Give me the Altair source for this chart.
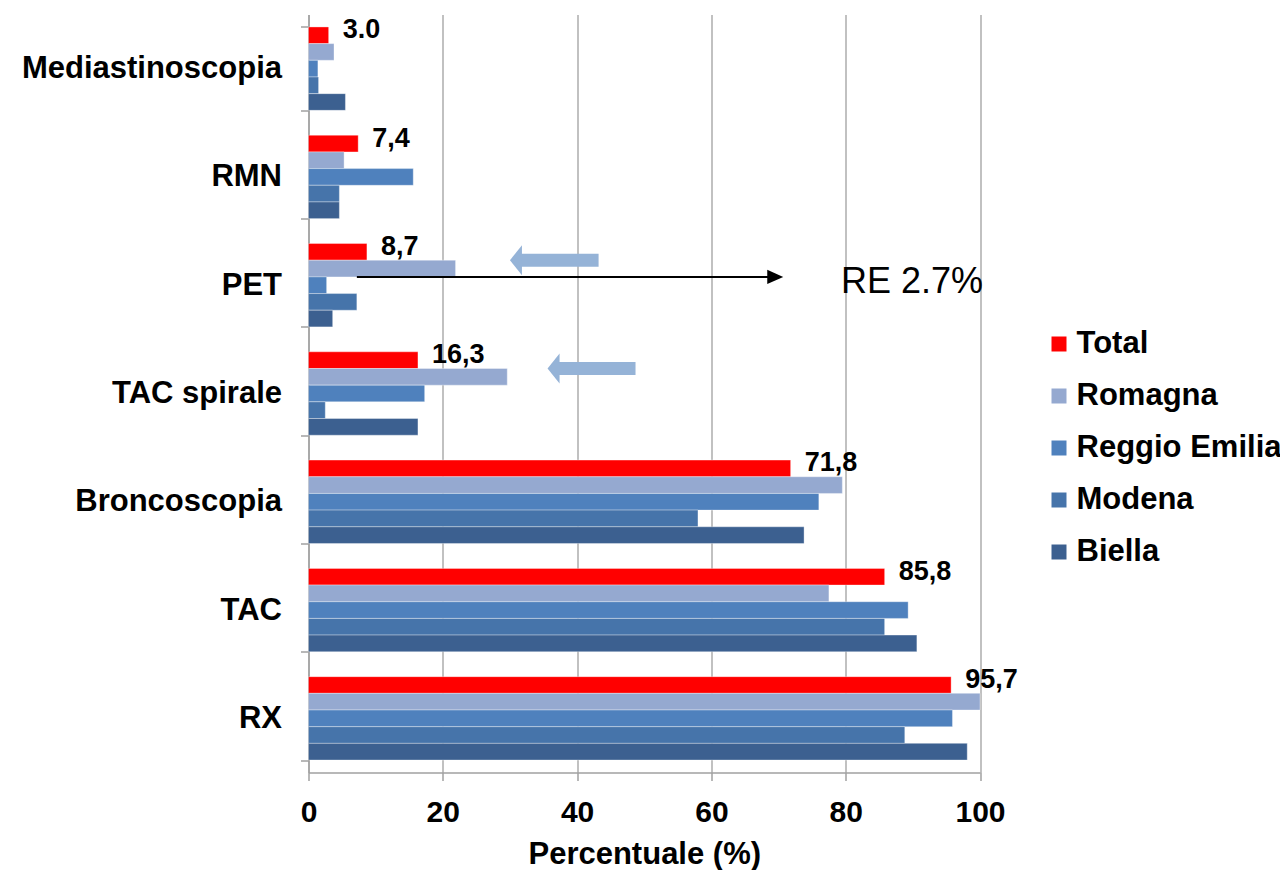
import altair as alt
import pandas as pd

# ---------------- data ----------------
categories = ["Mediastinoscopia", "RMN", "PET", "TAC spirale", "Broncoscopia", "TAC", "RX"]
series = ["Total", "Romagna", "Reggio Emilia", "Modena", "Biella"]
total = [3.0, 7.4, 8.7, 16.3, 71.8, 85.8, 95.7]
romagna = [3.8, 5.3, 21.9, 29.6, 79.5, 77.5, 100.0]
reggio_emilia = [1.4, 15.6, 2.7, 17.3, 76.0, 89.3, 95.9]
modena = [1.5, 4.6, 7.2, 2.5, 58.0, 85.8, 88.8]
biella = [5.5, 4.6, 3.6, 16.3, 73.8, 90.6, 98.1]
total_labels = ["3.0", "7,4", "8,7", "16,3", "71,8", "85,8", "95,7"]
x_ticks = [0, 20, 40, 60, 80, 100]

# annotations (x in data units, anchored at boundary after a series bar)
arrow_category = ["PET", "TAC spirale"]
arrow_after_series = ["Total", "Total"]
arrow_tip = [30.0, 35.6]
arrow_tail = [43.2, 48.7]
note_category = "PET"
note_after_series = "Romagna"
note_start = 7.2
note_tip = 70.7
note_text = "RE 2.7%"
note_text_x = 79.3

# ---------------- styles ----------------
colors = ["#FF0000", "#95A9D0", "#4F81BD", "#4674AA", "#3C6090"]
arrow_color = "#95B3D7"
grey = "#A0A0A0"
FONT = "Liberation Sans"
PAD_INNER = 0.23
PAD_OUTER = PAD_INNER / 2

values = [total, romagna, reggio_emilia, modena, biella]
rows = []
for s, vals in zip(series, values):
    for c, v in zip(categories, vals):
        rows.append({"category": c, "series": s, "value": v})
df = pd.DataFrame(rows)

label_df = pd.DataFrame({"category": categories, "series": "Total",
                         "value": total, "label": total_labels})

sub = (1 - PAD_INNER) / len(series)


def row_pos(cat, after):
    return categories.index(cat) + PAD_OUTER + (series.index(after) + 1) * sub


arrow_df = pd.DataFrame({
    "pos": [row_pos(c, s) for c, s in zip(arrow_category, arrow_after_series)],
    "value": arrow_tip,
    "shaft": [t + 1.2 for t in arrow_tip],
    "value2": arrow_tail,
})
note_df = pd.DataFrame({
    "pos": [row_pos(note_category, note_after_series)],
    "value": [note_start],
    "value2": [note_tip - 0.5],
    "tip": [note_tip],
    "tx": [note_text_x],
    "text": [note_text],
})

x_scale = alt.Scale(domain=[0, 100], nice=False, zero=True)
x_axis = alt.Axis(values=x_ticks, title="Percentuale (%)", grid=True)
y_scale_q = alt.Scale(domain=[0, len(categories)], reverse=True, nice=False, zero=False)


def xenc(field):
    return alt.X(field, type="quantitative", scale=x_scale, axis=x_axis)


y_band = alt.Y("category:N", sort=categories,
               scale=alt.Scale(domain=categories, paddingInner=PAD_INNER, paddingOuter=PAD_OUTER),
               axis=alt.Axis(title=None, tickBand="extent", grid=False, labelLimit=600))
y_off = alt.YOffset("series:N", sort=series,
                    scale=alt.Scale(domain=series, paddingInner=0, paddingOuter=0))

bars = alt.Chart(df).mark_bar(stroke="white", strokeWidth=1, strokeOpacity=0.35).encode(
    x=xenc("value"),
    y=y_band,
    yOffset=y_off,
    color=alt.Color("series:N", sort=series,
                    scale=alt.Scale(domain=series, range=colors),
                    legend=alt.Legend(orient="none", legendX=735, legendY=314, title=None,
                                      labelFontSize=31, labelFontWeight="bold", labelFont=FONT,
                                      labelColor="black", symbolType="square", symbolSize=225,
                                      symbolStrokeWidth=0, rowPadding=20, labelOffset=2,
                                      labelLimit=600)),
)

labels = alt.Chart(label_df).mark_text(align="left", baseline="middle", dx=14, dy=-5,
                                       fontSize=27, fontWeight="bold", font=FONT,
                                       color="black").encode(
    x=xenc("value"),
    y=y_band,
    yOffset=y_off,
    text="label:N",
)

yq = alt.Y("pos:Q", scale=y_scale_q, axis=None)

shaft = alt.Chart(arrow_df).mark_rule(color=arrow_color, strokeWidth=13).encode(
    x=xenc("shaft"), x2="value2", y=yq)
head = alt.Chart(arrow_df).mark_point(shape="M0,0L0.8,-1L0.8,1Z", size=900, filled=True,
                                      color=arrow_color, opacity=1, strokeWidth=0).encode(
    x=xenc("value"), y=yq)
line = alt.Chart(note_df).mark_rule(color="black", strokeWidth=2).encode(
    x=xenc("value"), x2="value2", y=yq)
line_head = alt.Chart(note_df).mark_point(shape="M0,0L-1,-0.45L-1,0.45Z", size=1024, filled=True,
                                          color="black", opacity=1, strokeWidth=0).encode(
    x=xenc("tip"), y=yq)
note = alt.Chart(note_df).mark_text(align="left", baseline="alphabetic", dy=16, fontSize=36,
                                    font=FONT, color="black").encode(
    x=xenc("tx"), y=yq, text="text:N")

chart = alt.layer(
    alt.layer(bars, labels),
    alt.layer(shaft, head, line, line_head, note),
).resolve_scale(y="independent").properties(
    width=671.5,
    height=758,
    autosize=alt.AutoSizeParams(type="none"),
    padding={"left": 300.5, "top": 6.5, "right": 300, "bottom": 100},
).configure_view(stroke=None).configure_axis(
    labelFont=FONT, titleFont=FONT, labelColor="black", titleColor="black",
    domainColor=grey, domainWidth=1.5, tickColor=grey, tickWidth=1.5, tickSize=8,
    gridColor=grey, gridWidth=1.3,
).configure_axisY(
    labelFontSize=31, labelFontWeight="bold", labelPadding=19,
).configure_axisX(
    labelFontSize=30, labelFontWeight="bold", labelPadding=17, labelFlush=False,
    titleFontSize=31, titleFontWeight="bold", titlePadding=12,
)

chart.save("out.html", embed_options={"renderer": "svg", "actions": False})
